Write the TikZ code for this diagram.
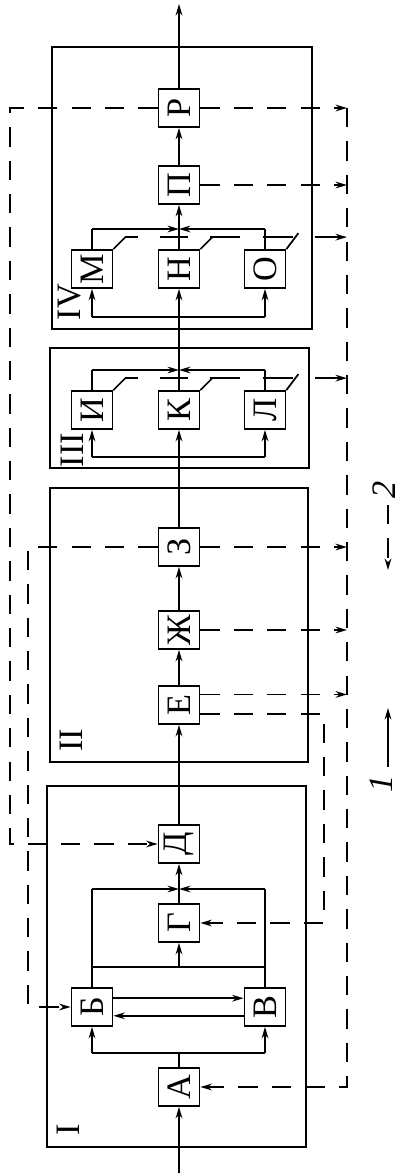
\documentclass[tikz,border=0pt]{standalone}
\usepackage{fontspec}
\setmainfont{Liberation Serif}
\usetikzlibrary{arrows.meta}
\newcommand{\rlab}[1]{\rotatebox{90}{#1}}

\begin{document}
\begin{tikzpicture}[x=0.02cm, y=-0.02cm, line width=1pt,
    >={Stealth[length=6.5pt,width=3.8pt]},
    lab/.style={font=\fontsize{19.5}{21}\selectfont, inner sep=0pt},
    blk/.style={lab, draw, minimum width=0.82cm, minimum height=0.76cm},
    sig/.style={dash pattern=on 11pt off 8pt},
    link/.style={dash pattern=on 7.4pt off 12.5pt on 15.9pt off 12.5pt on 17pt off 13pt on 17pt off 12.5pt on 18pt off 0pt}]
    \useasboundingbox (0,0) rectangle (402,1173);

    % 1. stage frames and their numbers
    \draw (47,786) rectangle (306,1147);
    \draw (50,488) rectangle (308,762);
    \draw (50,348) rectangle (309,468);
    \draw (52,47) rectangle (312,329);
    \node[lab] (nI) at (68,1130) {\rlab{I}};
    \node[lab] (nII) at (71,740) {\rlab{II}};
    \node[lab] (nIII) at (72,450) {\rlab{III}};
    \node[lab] (nIV) at (70,302) {\rlab{IV}};

    % 2. blocks
    \node[blk] (A) at (179,1087) {\rlab{А}};
    \node[blk] (B) at (92,1007) {\rlab{Б}};
    \node[blk] (V) at (265,1007) {\rlab{В}};
    \node[blk] (G) at (179,923) {\rlab{Г}};
    \node[blk] (D) at (179,844) {\rlab{Д}};
    \node[blk] (E) at (179,705) {\rlab{Е}};
    \node[blk] (Zh) at (179,630) {\rlab{Ж}};
    \node[blk] (Z) at (179,547) {\rlab{З}};
    \node[blk] (I) at (92,410) {\rlab{И}};
    \node[blk] (K) at (179,410) {\rlab{К}};
    \node[blk] (L) at (265,410) {\rlab{Л}};
    \node[blk] (M) at (92,269) {\rlab{М}};
    \node[blk] (N) at (179,269) {\rlab{Н}};
    \node[blk] (O) at (265,269) {\rlab{О}};
    \node[blk] (P) at (179,185) {\rlab{П}};
    \node[blk] (R) at (179,108) {\rlab{Р}};

    \coordinate (in) at (179,1173);
    \coordinate (out) at (179,4);
    \coordinate (bus) at (347,0);
    \coordinate (outL) at (10,0);
    \coordinate (inL) at (28,0);
    \coordinate (inR) at (324,0);

    % 3. stage I
    \coordinate (a1) at (92,1053);
    \coordinate (a2) at (265,1053);
    \coordinate (g1) at (92,967);
    \coordinate (g2) at (265,967);
    \coordinate (d1) at (92,889);
    \coordinate (d2) at (265,889);
    \draw[->] (in) -- (A.south);
    \draw (A.north) -- (A.north |- a1);
    \draw (a1) -- (a2);
    \draw[->] (a1) -- (B.south);
    \draw[->] (a2) -- (V.south);
    \draw[->] ([yshift=5pt]B.east) -- ([yshift=5pt]V.west);
    \draw[->] ([yshift=-5pt]V.west) -- ([yshift=-5pt]B.east);
    \draw (B.north) -- (d1);
    \draw (V.north) -- (d2);
    \draw (g1) -- (g2);
    \draw[->] (g1 -| G) -- (G.south);
    \draw[->] (d1) -- (d1 -| G);
    \draw[->] (d2) -- (d2 -| G);
    \draw[->] (G.north) -- (D.south);

    % 4. stage II
    \draw[->] (D.north) -- (E.south);
    \draw[->] (E.north) -- (Zh.south);
    \draw[->] (Zh.north) -- (Z.south);
    \draw[->] (Z.north) -- (K.south);

    % 5. stage III
    \coordinate (i1) at (92,457);
    \coordinate (i2) at (265,457);
    \coordinate (k1) at (92,370);
    \coordinate (k2) at (265,370);
    \draw (i1) -- (i2);
    \draw[->] (i1) -- (I.south);
    \draw[->] (i2) -- (L.south);
    \draw (I.north) -- (k1);
    \draw (L.north) -- (k2);
    \draw[->] (k1) -- (k1 -| K);
    \draw[->] (k2) -- (k2 -| K);
    \draw[->] (K.north) -- (N.south);

    % 6. stage IV
    \coordinate (m1) at (92,317);
    \coordinate (m2) at (265,317);
    \coordinate (n1) at (92,229);
    \coordinate (n2) at (265,229);
    \draw (m1) -- (m2);
    \draw[->] (m1) -- (M.south);
    \draw[->] (m2) -- (O.south);
    \draw (M.north) -- (n1);
    \draw (O.north) -- (n2);
    \draw[->] (n1) -- (n1 -| N);
    \draw[->] (n2) -- (n2 -| N);
    \draw[->] (N.north) -- (P.south);
    \draw[->] (P.north) -- (R.south);
    \draw[->] (R.north) -- (out);

    % 7. switches of the reserve blocks
    \foreach \b/\h in {I/12, K/12, L/16, M/12, N/12, O/16}
        \draw (\b.north east) -- ++(12,-\h);
    \coordinate (swI) at ([shift={(12,-12)}]I.north east);
    \coordinate (swM) at ([shift={(12,-12)}]M.north east);
    \draw[link,->] (swI) -- (swI -| bus);
    \draw[link,->] (swM) -- (swM -| bus);

    % 8. control lines
    \coordinate (eUp) at ([yshift=6pt]E.east);
    \coordinate (eLo) at ([yshift=-5pt]E.east);
    \draw[sig,->] (R.west) -- (R.west -| outL) |- (D.west);
    \draw[sig,->] (R.east) -- (R.east -| bus);
    \draw[sig,->] (R.east -| bus) |- (A.east);
    \draw[sig,->] (P.east) -- (P.east -| bus);
    \draw[sig,->] (Z.east) -- (Z.east -| bus);
    \draw[sig,->] (Z.west) -- (Z.west -| inL) |- (B.west);
    \draw[sig,->] (Zh.east) -- (Zh.east -| bus);
    \draw[sig,->] (eUp) -- (eUp -| bus);
    \draw[sig,->] (eLo) -- (eLo -| inR) |- (G.east);

    % 9. legend
    \node[lab] (one) at (381,784) {\rlab{\textit{1}}};
    \node[lab] (two) at (384,490) {\rlab{\textit{2}}};
    \coordinate (oneA) at (388,767);
    \coordinate (oneB) at (388,708);
    \coordinate (twoA) at (388,505);
    \coordinate (twoB) at (388,570);
    \draw[->] (oneA) -- (oneB);
    \draw[sig,->] (twoA) -- (twoB);
\end{tikzpicture}
\end{document}
